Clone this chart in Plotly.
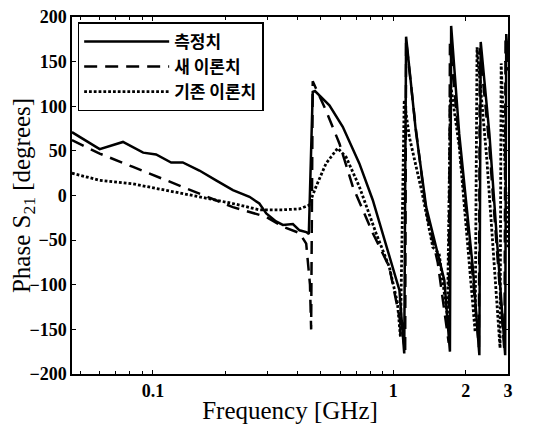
import plotly.graph_objects as go

# 측정치 (measured)
meas_f = [0.046, 0.060, 0.075, 0.091, 0.103, 0.119, 0.133, 0.156, 0.183, 0.215, 0.252, 0.277,
          0.296, 0.325, 0.347, 0.382, 0.407, 0.434, 0.445, 0.462, 0.472, 0.542, 0.616, 0.722,
          0.821, 0.962, 1.06, 1.11, 1.13, 1.24, 1.37, 1.53, 1.63, 1.72, 1.74, 1.88, 2.14, 2.28,
          2.31, 2.51, 2.76, 2.92, 2.95, 3.0]
meas_y = [71, 52, 60, 48, 46, 37, 37, 28, 17, 6, -1.5, -9,
          -20, -29, -33, -32, -39, -41, -43, 116, 117, 101, 77, 36,
          -5, -69, -106, -177, 178, 73, -13, -65, -95, -175, 190, 69, -80, -179,
          172, 69, -80, -179, 181, 150]

# 새 이론치 (new theory)
new_f = [0.046, 0.060, 0.0826, 0.1136, 0.156, 0.215, 0.296, 0.347, 0.407, 0.434, 0.450, 0.455,
         0.462, 0.525, 0.597, 0.678, 0.821, 0.962, 1.093, 1.12, 1.13, 1.24, 1.37, 1.53,
         1.70, 1.72, 1.88, 2.14, 2.27, 2.29, 2.50, 2.76, 2.90, 2.93, 3.0]
new_y = [62, 47, 32, 17, 2, -13, -24, -35, -42, -54, -100, -150,
         128, 95, 58, 10, -42, -80, -154, -175, 174, 75, -18, -75,
         -165, 170, 60, -90, -170, 165, 60, -90, -175, 175, 140]

# 기존 이론치 (old theory)
old_f = [0.046, 0.060, 0.0826, 0.1136, 0.156, 0.215, 0.277, 0.347, 0.407, 0.445, 0.477, 0.525,
         0.587, 0.636, 0.722, 0.847, 0.962, 1.04, 1.07, 1.11, 1.165, 1.32, 1.46, 1.55, 1.68,
         1.73, 1.88, 2.19, 2.23, 2.45, 2.78, 2.81, 3.0]
old_y = [25, 17, 13, 6, -1.5, -9, -16, -16, -15, -11, 10, 36,
         53, 43, 10, -42, -80, -120, -158, 107, 66, 2, -58, -65, -136,
         125, 55, -153, 166, 40, -171, 148, -60]

x_ticks = [0.1, 1, 2, 3]
x_ticklabels = ["0.1", "1", "2", "3"]
x_minor = [0.05, 0.06, 0.07, 0.08, 0.09, 0.2, 0.3, 0.4, 0.5, 0.6, 0.7, 0.8, 0.9]
y_ticks = [-200, -150, -100, -50, 0, 50, 100, 150, 200]

serif = "Liberation Serif, Times New Roman, serif"
kor = "Noto Sans CJK KR, sans-serif"

fig = go.Figure()
fig.add_trace(go.Scatter(x=meas_f, y=meas_y, mode="lines", name="측정치",
                         line=dict(color="black", width=2.5, dash="solid")))
fig.add_trace(go.Scatter(x=new_f, y=new_y, mode="lines", name="새 이론치",
                         line=dict(color="black", width=2.5, dash="13px,8px")))
fig.add_trace(go.Scatter(x=old_f, y=old_y, mode="lines", name="기존 이론치",
                         line=dict(color="black", width=2.8, dash="2.8px,2px")))

# the page body has an 8px margin, so the figure is sized to fill the rest of the window
fig.update_layout(
    width=525, height=416,
    margin=dict(l=64, r=25, t=9, b=50),
    paper_bgcolor="white", plot_bgcolor="white",
    showlegend=True,
    legend=dict(x=0.013, y=0.985, xanchor="left", yanchor="top",
                bordercolor="black", borderwidth=1.5, bgcolor="white",
                font=dict(family=kor, size=17, color="black", weight="bold"),
                itemwidth=85, tracegroupgap=0, traceorder="normal"),
    xaxis=dict(type="log", range=[-1.337, 0.4771], automargin=False,
               tickmode="array", tickvals=x_ticks, ticktext=x_ticklabels,
               ticks="inside", ticklen=4, tickwidth=1, tickcolor="black",
               minor=dict(tickmode="array", tickvals=x_minor, ticks="inside", ticklen=3, tickcolor="black"),
               showline=True, linecolor="black", linewidth=1.5, mirror="ticks",
               showgrid=False, zeroline=False, ticklabeloverflow="allow",
               tickfont=dict(family=serif, size=18, color="black", weight="bold"),
               title=dict(text="Frequency [GHz]", font=dict(family=serif, size=25, color="black"))),
    yaxis=dict(range=[-200, 200], tickmode="array", tickvals=y_ticks, automargin=False,
               ticks="inside", ticklen=4, tickwidth=1, tickcolor="black",
               showline=True, linecolor="black", linewidth=1.5, mirror="ticks",
               showgrid=False, zeroline=False, ticklabeloverflow="allow",
               tickfont=dict(family=serif, size=18, color="black", weight="bold"),
               title=dict(text="Phase S<sub>21</sub> [degrees]", font=dict(family=serif, size=25, color="black"))),
)

fig.write_html("out.html")
